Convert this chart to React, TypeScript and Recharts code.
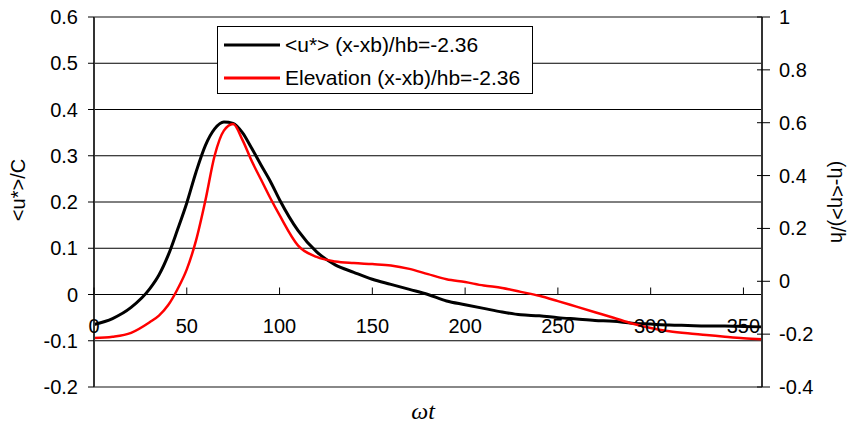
import React from 'react';
import {
  LineChart,
  Line,
  XAxis,
  YAxis,
  CartesianGrid,
  ReferenceLine,
  Legend,
} from 'recharts';

// wave phase (omega t) sample points
const phase = [
  0, 10, 20, 30, 35, 40, 45, 50, 55, 60, 65, 70, 75, 80, 85, 90, 95, 100, 110, 120,
  130, 140, 150, 160, 170, 180, 190, 200, 210, 220, 230, 240, 250, 260, 270, 280,
  290, 300, 310, 320, 330, 340, 350, 360,
];

// <u*>/C  (left axis)
const uStar = [
  -0.065, -0.052, -0.028, 0.012, 0.042, 0.085, 0.14, 0.198, 0.265, 0.322, 0.358, 0.373,
  0.37, 0.35, 0.316, 0.28, 0.245, 0.205, 0.138, 0.092, 0.064, 0.048, 0.033, 0.022,
  0.011, 0.0, -0.014, -0.022, -0.03, -0.038, -0.044, -0.046, -0.05, -0.053, -0.056,
  -0.058, -0.062, -0.064, -0.066, -0.067, -0.068, -0.068, -0.069, -0.07,
];

// (eta - <eta>)/h  (right axis)
const elevation = [
  -0.215, -0.21, -0.195, -0.155, -0.13, -0.09, -0.03, 0.045, 0.155, 0.305, 0.475, 0.57,
  0.595, 0.535, 0.455, 0.385, 0.315, 0.25, 0.135, 0.092, 0.075, 0.069, 0.065, 0.06,
  0.047, 0.027, 0.008, -0.003, -0.016, -0.025, -0.04, -0.055, -0.075, -0.096, -0.117,
  -0.138, -0.16, -0.177, -0.189, -0.197, -0.203, -0.21, -0.216, -0.219,
];

const xTicks = [0, 50, 100, 150, 200, 250, 300, 350];
const leftTicks = [-0.2, -0.1, 0, 0.1, 0.2, 0.3, 0.4, 0.5, 0.6];
const rightTicks = [-0.4, -0.2, 0, 0.2, 0.4, 0.6, 0.8, 1];

const seriesNames = ['<u*> (x-xb)/hb=-2.36', 'Elevation (x-xb)/hb=-2.36'];

const data = phase.map((t, i) => ({ t, u: uStar[i], eta: elevation[i] }));

const FONT = '"Liberation Sans", Arial, sans-serif';
const TICK_FS = 20;
const PLOT_TOP = 17;
const PLOT_H = 370;
// distance from the bottom of the plot to the u=0 line
const ZERO_SHIFT = (PLOT_H * (0 - leftTicks[0])) / (leftTicks[leftTicks.length - 1] - leftTicks[0]);

const XTick = (props: any) => {
  const { x, y, payload } = props;
  const y0 = y - ZERO_SHIFT;
  return (
    <g>
      <line x1={x} x2={x} y1={y0 - 7} y2={y0} stroke="#000" />
      <text x={x} y={y0 + 38} textAnchor="middle" fontSize={TICK_FS} fill="#000" fontFamily={FONT}>
        {payload.value}
      </text>
    </g>
  );
};

const RightTick = (props: any) => {
  const { x, y, payload } = props;
  return (
    <g>
      <line x1={x - 5} x2={x + 8} y1={y} y2={y} stroke="#000" />
      <text x={x + 17} y={y + 7} textAnchor="start" fontSize={TICK_FS} fill="#000" fontFamily={FONT}>
        {payload.value}
      </text>
    </g>
  );
};

const renderLegend = () => (
  <div
    style={{
      position: 'relative',
      width: 316,
      height: 68,
      border: '1px solid #000',
      background: '#fff',
      boxSizing: 'border-box',
      fontFamily: FONT,
      fontSize: 21,
      color: '#000',
    }}
  >
    {seriesNames.map((name, i) => (
      <div key={name} style={{ position: 'absolute', left: 6, top: 4 + i * 33, height: 28, display: 'flex', alignItems: 'center', whiteSpace: 'nowrap' }}>
        <svg width={56} height={6} style={{ marginRight: 5 }}>
          <line x1={0} x2={56} y1={3} y2={3} stroke={i === 0 ? '#000' : '#ff0000'} strokeWidth={3} />
        </svg>
        <span>{name}</span>
      </div>
    ))}
  </div>
);

export default function App() {
  return (
    <div style={{ position: 'absolute', left: 0, top: 0, background: '#fff' }}>
      <LineChart
        width={852}
        height={429}
        data={data}
        margin={{ top: PLOT_TOP, right: 0, bottom: 0, left: 0 }}
        style={{ fontFamily: FONT }}
      >
        <CartesianGrid yAxisId="left" vertical={false} stroke="#000" strokeWidth={1} />
        <XAxis
          dataKey="t"
          type="number"
          domain={[0, 360]}
          ticks={xTicks}
          height={42}
          axisLine={false}
          tickLine={false}
          tickSize={0}
          tickMargin={0}
          tick={<XTick />}
          label={{
            content: (p: any) => (
              <text
                x={p.viewBox.x + 329}
                y={p.viewBox.y + 32}
                textAnchor="middle"
                fontFamily='"Liberation Serif", "Times New Roman", serif'
                fontStyle="italic"
                fontSize={24}
                fill="#000"
              >
                ωt
              </text>
            ),
          }}
        />
        <YAxis
          yAxisId="left"
          domain={[-0.2, 0.6]}
          ticks={leftTicks}
          width={94}
          axisLine={{ stroke: '#333', strokeWidth: 2 }}
          tickLine={{ stroke: '#000' }}
          tickSize={6}
          tickMargin={10}
          tick={{ fontSize: TICK_FS, fill: '#000', fontFamily: FONT }}
          label={{
            content: (p: any) => {
              const cx = p.viewBox.x + 18;
              const cy = p.viewBox.y + p.viewBox.height / 2 - 12;
              return (
                <text x={cx} y={cy} transform={`rotate(-90 ${cx} ${cy})`} textAnchor="middle" dominantBaseline="central" fontSize={20} fill="#000" fontFamily={FONT}>
                  {'<u*>/C'}
                </text>
              );
            },
          }}
        />
        <YAxis
          yAxisId="right"
          orientation="right"
          domain={[-0.4, 1]}
          ticks={rightTicks}
          width={90}
          axisLine={{ stroke: '#333', strokeWidth: 2 }}
          tickLine={false}
          tickSize={0}
          tickMargin={0}
          tick={<RightTick />}
          label={{
            content: (p: any) => {
              const cx = p.viewBox.x + 76;
              const cy = p.viewBox.y + p.viewBox.height / 2;
              return (
                <text x={cx} y={cy} transform={`rotate(90 ${cx} ${cy})`} textAnchor="middle" dominantBaseline="central" fontSize={20} fill="#000" fontFamily={FONT}>
                  {'(η-<η>)/h'}
                </text>
              );
            },
          }}
        />
        <ReferenceLine yAxisId="left" y={0.6} stroke="#888" strokeWidth={2} />
        <ReferenceLine yAxisId="left" y={-0.2} stroke="#888" strokeWidth={2} />
        <ReferenceLine yAxisId="left" y={0} stroke="#000" strokeWidth={1} />
        <Legend
          layout="vertical"
          align="center"
          verticalAlign="middle"
          content={renderLegend}
          wrapperStyle={{ position: 'absolute', left: 217, top: 26, width: 316, height: 68 }}
        />
        <Line
          yAxisId="left"
          dataKey="u"
          name={seriesNames[0]}
          type="monotone"
          stroke="#000"
          strokeWidth={3}
          dot={false}
          isAnimationActive={false}
        />
        <Line
          yAxisId="right"
          dataKey="eta"
          name={seriesNames[1]}
          type="monotone"
          stroke="#ff0000"
          strokeWidth={2.5}
          dot={false}
          isAnimationActive={false}
        />
      </LineChart>
    </div>
  );
}
